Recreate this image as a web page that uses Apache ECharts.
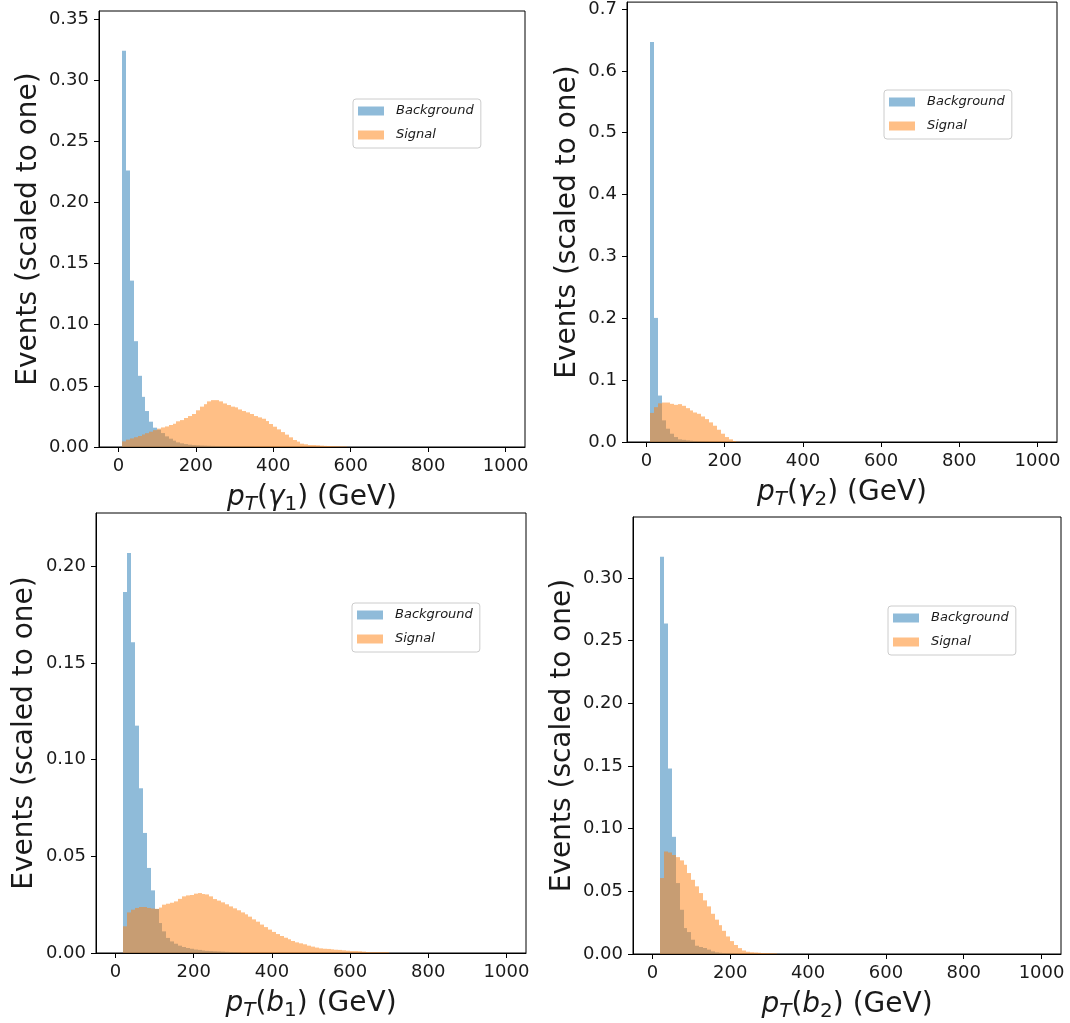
<!DOCTYPE html>
<html>
<head>
<meta charset="utf-8">
<script src="https://cdn.jsdelivr.net/npm/echarts@6/dist/echarts.min.js"></script>
<style>
html,body{margin:0;padding:0;background:#ffffff;}
#chart{width:1070px;height:1023px;}
</style>
</head>
<body>
<div id="chart"></div>
<script>
// ---------------- data ----------------
const binWidth = 10; // GeV, bins 0..1000
const firstEdgeGamma1 = 10;
const firstEdgeGamma2 = 10;
const firstEdgeB1 = 20;
const firstEdgeB2 = 20;

const gamma1Background = [0.324, 0.226, 0.136, 0.0865, 0.0582, 0.041, 0.0294, 0.0207, 0.0158, 0.0141,
  0.0114, 0.0087, 0.0068, 0.0052, 0.0038, 0.003, 0.0024, 0.0019, 0.0016, 0.0014,
  0.0012, 0.0011, 0.001, 0.0009, 0.0008, 0.0007, 0.0006, 0.0005, 0.0004, 0.0004,
  0.0003, 0.0003, 0.0002, 0.0002];
const gamma1Signal = [0.0046, 0.006, 0.007, 0.008, 0.009, 0.0102, 0.0113, 0.0125, 0.0138, 0.015,
  0.016, 0.0168, 0.018, 0.019, 0.021, 0.022, 0.0237, 0.0253, 0.027, 0.030,
  0.033, 0.035, 0.0373, 0.0383, 0.0383, 0.0373, 0.0356, 0.0343, 0.033, 0.0324,
  0.0307, 0.0294, 0.0283, 0.027, 0.0253, 0.0242, 0.0231, 0.0212, 0.0188, 0.0166,
  0.0144, 0.0122, 0.0101, 0.0079, 0.0057, 0.0044, 0.0027, 0.0022, 0.0016, 0.0016,
  0.0014, 0.0011, 0.0009, 0.0008, 0.0007, 0.0006, 0.0005, 0.0004];

const gamma2Background = [0.6465, 0.2006, 0.0751, 0.035, 0.0215, 0.0134, 0.008, 0.0043, 0.0035, 0.0027,
  0.002, 0.0015, 0.001, 0.0008, 0.0006, 0.0004, 0.0003, 0.0002];
const gamma2Signal = [0.047, 0.0563, 0.0625, 0.0638, 0.0638, 0.0617, 0.0601, 0.0612, 0.0585, 0.0547,
  0.051, 0.0477, 0.0456, 0.0413, 0.037, 0.0317, 0.0263, 0.0198, 0.0134, 0.008,
  0.0043, 0.0016, 0.0005];

const b1Background = [0.1867, 0.2069, 0.1607, 0.1176, 0.0852, 0.0621, 0.044, 0.0324, 0.0228, 0.0155,
  0.0112, 0.0078, 0.006, 0.0048, 0.0038, 0.0031, 0.0026, 0.0022, 0.0018, 0.0016,
  0.0013, 0.0011, 0.001, 0.0009, 0.0008, 0.0007, 0.0006, 0.0005, 0.0004, 0.0003];
const b1Signal = [0.0138, 0.021, 0.0224, 0.0233, 0.0238, 0.0238, 0.0233, 0.023, 0.0228, 0.0235,
  0.025, 0.0255, 0.026, 0.0267, 0.028, 0.0293, 0.0298, 0.030, 0.0307, 0.031,
  0.0305, 0.0303, 0.0293, 0.0279, 0.0271, 0.0262, 0.0252, 0.0241, 0.0231, 0.0221,
  0.021, 0.020, 0.0188, 0.0174, 0.0162, 0.0147, 0.0134, 0.0121, 0.0109, 0.0098,
  0.0088, 0.0079, 0.0071, 0.0062, 0.0055, 0.005, 0.0045, 0.0038, 0.0033, 0.0028,
  0.0024, 0.0022, 0.0021, 0.0019, 0.0017, 0.0016, 0.0014, 0.0012, 0.001, 0.001,
  0.0009, 0.0007, 0.0005, 0.0004, 0.0004, 0.0004, 0.0004, 0.0004];

const b2Background = [0.317, 0.2638, 0.148, 0.0935, 0.0566, 0.0353, 0.0207, 0.0175, 0.0114, 0.0066,
  0.0056, 0.0048, 0.0035, 0.0021, 0.0013, 0.001, 0.0008, 0.0006, 0.0004, 0.0003];
const b2Signal = [0.0606, 0.0818, 0.081, 0.079, 0.0773, 0.0747, 0.0712, 0.0646, 0.0592, 0.054,
  0.0486, 0.0428, 0.038, 0.0321, 0.0274, 0.023, 0.0185, 0.014, 0.0103, 0.0072,
  0.0047, 0.0028, 0.0018, 0.0014, 0.0012, 0.001, 0.0008, 0.0007, 0.0006, 0.0005];

const xTickValues = [0, 200, 400, 600, 800, 1000];
const yTicksGamma1 = [0, 0.05, 0.10, 0.15, 0.20, 0.25, 0.30, 0.35];
const yTicksGamma2 = [0, 0.1, 0.2, 0.3, 0.4, 0.5, 0.6, 0.7];
const yTicksB1 = [0, 0.05, 0.10, 0.15, 0.20];
const yTicksB2 = [0, 0.05, 0.10, 0.15, 0.20, 0.25, 0.30];

const seriesNames = ['Background', 'Signal'];
const yTitle = 'Events (scaled to one)';
const xTitles = [
  '{i|p}{si|T}{n|(}{i|γ}{s|1}{n|) (GeV)}',
  '{i|p}{si|T}{n|(}{i|γ}{s|2}{n|) (GeV)}',
  '{i|p}{si|T}{n|(}{i|b}{s|1}{n|) (GeV)}',
  '{i|p}{si|T}{n|(}{i|b}{s|2}{n|) (GeV)}'
];

// ---------------- layout / style ----------------
const FONT = 'DejaVu Sans';
const bgColor = '#1f77b4';
const sigColor = '#ff7f0e';
const panels = [
  {bg: gamma1Background, sig: gamma1Signal, first: firstEdgeGamma1, yTicks: yTicksGamma1, dec: 2,
   grid: {left: 99, top: 11, width: 426, height: 436}, legend: {left: 353, top: 99}, yGap: 56},
  {bg: gamma2Background, sig: gamma2Signal, first: firstEdgeGamma2, yTicks: yTicksGamma2, dec: 1,
   grid: {left: 627, top: 2, width: 430, height: 440}, legend: {left: 884, top: 90}, yGap: 45},
  {bg: b1Background, sig: b1Signal, first: firstEdgeB1, yTicks: yTicksB1, dec: 2,
   grid: {left: 96, top: 513, width: 430, height: 440}, legend: {left: 352, top: 603}, yGap: 57},
  {bg: b2Background, sig: b2Signal, first: firstEdgeB2, yTicks: yTicksB2, dec: 2,
   grid: {left: 633, top: 517, width: 428, height: 437}, legend: {left: 888, top: 606}, yGap: 56}
];

function toBins(values, firstEdge) {
  return values.map((v, i) => [firstEdge + i * binWidth, firstEdge + (i + 1) * binWidth, v]);
}

function histRender(color) {
  return function (params, api) {
    const x0 = api.value(0), x1 = api.value(1), h = api.value(2);
    const p0 = api.coord([x0, h]);
    const p1 = api.coord([x1, 0]);
    const xl = Math.round(p0[0]), xr = Math.round(p1[0]);
    return {
      type: 'rect',
      shape: {x: xl, y: p0[1], width: xr - xl, height: p1[1] - p0[1]},
      style: {fill: color, opacity: 0.5}
    };
  };
}

const grids = [], xAxes = [], yAxes = [], series = [], legends = [];
panels.forEach((p, k) => {
  grids.push(Object.assign({show: true, borderColor: '#000', borderWidth: 1, backgroundColor: '#fff'}, p.grid));
  const ymax = 1.1 * Math.max(...p.bg, ...p.sig);
  xAxes.push({
    type: 'value', gridIndex: k, min: -50, max: 1050,
    axisLine: {show: true, onZero: false, lineStyle: {color: '#000', width: 1}},
    axisTick: {show: true, length: 5, lineStyle: {color: '#000', width: 1}, customValues: xTickValues},
    axisLabel: {show: true, margin: 10, fontSize: 18, fontFamily: FONT, color: '#1a1a1a', customValues: xTickValues,
      formatter: v => String(v)},
    splitLine: {show: false},
    name: xTitles[k], nameLocation: 'middle', nameGap: 34,
    nameTextStyle: {
      fontFamily: FONT, fontSize: 28, color: '#1a1a1a',
      rich: {
        n: {fontFamily: FONT, fontSize: 28, lineHeight: 34, color: '#1a1a1a'},
        i: {fontFamily: FONT, fontSize: 28, fontStyle: 'italic', lineHeight: 34, color: '#1a1a1a'},
        si: {fontFamily: FONT, fontSize: 20, fontStyle: 'italic', lineHeight: 16, verticalAlign: 'bottom', color: '#1a1a1a'},
        s: {fontFamily: FONT, fontSize: 20, lineHeight: 16, verticalAlign: 'bottom', color: '#1a1a1a'}
      }
    }
  });
  yAxes.push({
    type: 'value', gridIndex: k, min: 0, max: ymax,
    axisLine: {show: true, onZero: false, lineStyle: {color: '#000', width: 1}},
    axisTick: {show: true, length: 5, lineStyle: {color: '#000', width: 1}, customValues: p.yTicks},
    axisLabel: {show: true, margin: 10, fontSize: 18, fontFamily: FONT, color: '#1a1a1a', customValues: p.yTicks,
      formatter: v => Number(v).toFixed(p.dec)},
    splitLine: {show: false},
    name: yTitle, nameLocation: 'middle', nameGap: p.yGap, nameRotate: 90,
    nameTextStyle: {fontFamily: FONT, fontSize: 28, color: '#1a1a1a'}
  });
  series.push({
    type: 'custom', name: seriesNames[0], xAxisIndex: k, yAxisIndex: k,
    renderItem: histRender(bgColor), itemStyle: {color: '#8fbbd9'},
    encode: {x: [0, 1], y: 2}, data: toBins(p.bg, p.first), clip: true, silent: true, z: 2
  });
  series.push({
    type: 'custom', name: seriesNames[1], xAxisIndex: k, yAxisIndex: k,
    renderItem: histRender(sigColor), itemStyle: {color: '#ffbf86'},
    encode: {x: [0, 1], y: 2}, data: toBins(p.sig, p.first), clip: true, silent: true, z: 3
  });
  legends.push({
    left: p.legend.left, top: p.legend.top, orient: 'vertical', selectedMode: false,
    backgroundColor: 'rgba(255,255,255,0.8)', borderColor: '#cccccc', borderWidth: 1, borderRadius: 3,
    padding: [5, 7, 6, 5], itemWidth: 26, itemHeight: 9, itemGap: 10,
    textStyle: {fontFamily: FONT, fontSize: 13, fontStyle: 'italic', color: '#1a1a1a', lineHeight: 14, padding: [0, 0, 0, 7]},
    data: [
      {name: seriesNames[0], icon: 'rect', itemStyle: {color: '#8fbbd9'}},
      {name: seriesNames[1], icon: 'rect', itemStyle: {color: '#ffbf86'}}
    ]
  });
});

const chart = echarts.init(document.getElementById('chart'), null, {renderer: 'canvas'});
chart.setOption({
  animation: false,
  backgroundColor: '#ffffff',
  grid: grids, xAxis: xAxes, yAxis: yAxes, series: series, legend: legends
});
</script>
</body>
</html>
